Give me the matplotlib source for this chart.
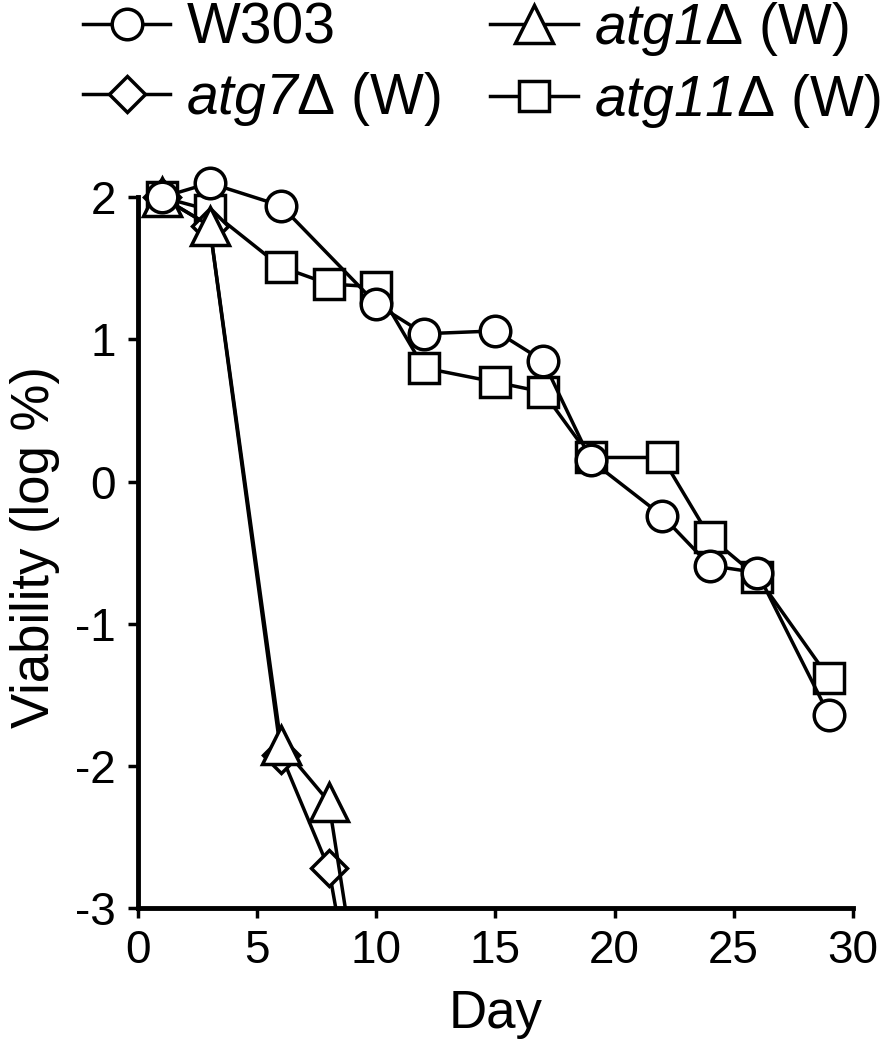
import matplotlib
matplotlib.use("Agg")
import matplotlib.pyplot as plt

plt.rcParams['font.family'] = ['Liberation Sans', 'DejaVu Sans']
plt.rcParams['mathtext.fontset'] = 'custom'
plt.rcParams['mathtext.rm'] = 'Liberation Sans:italic'
plt.rcParams['mathtext.it'] = 'Liberation Sans:italic'
plt.rcParams['axes.unicode_minus'] = False

# Data
w303_days = [1, 3, 6, 10, 12, 15, 17, 19, 22, 24, 26, 29]
w303_vals = [2.0, 2.1, 1.94, 1.25, 1.04, 1.06, 0.85, 0.15, -0.24, -0.59, -0.64, -1.64]

atg11_days = [1, 3, 6, 8, 10, 12, 15, 17, 19, 22, 24, 26, 29]
atg11_vals = [2.0, 1.91, 1.51, 1.39, 1.37, 0.80, 0.70, 0.63, 0.17, 0.17, -0.39, -0.67, -1.38]

atg1_days = [1, 3, 6, 8, 10]
atg1_vals = [2.0, 1.8, -1.85, -2.25, -4.4]

atg7_days = [1, 3, 6, 8, 10]
atg7_vals = [2.0, 1.8, -1.92, -2.72, -4.6]

x_ticks = [0, 5, 10, 15, 20, 25, 30]
y_ticks = [-3, -2, -1, 0, 1, 2]

labels = ['W303', r'$\mathrm{atg7}$' + 'Δ (W)', r'$\mathrm{atg1}$' + 'Δ (W)', r'$\mathrm{atg11}$' + 'Δ (W)']

fig = plt.figure(figsize=(8.8, 10.5), dpi=100)
ax = fig.add_axes([0.157, 0.135, 0.812, 0.711])

common = dict(color='black', lw=2.5, mec='black', mfc='white', mew=2.5)
l11, = ax.plot(atg11_days, atg11_vals, marker='s', ms=22, **common)
l7, = ax.plot(atg7_days, atg7_vals, marker='D', ms=18, **common)
l1, = ax.plot(atg1_days, atg1_vals, marker='^', ms=27, **common)
lw, = ax.plot(w303_days, w303_vals, marker='o', ms=22, **common)

ax.set_xlim(0, 30)
ax.set_ylim(-3, 2.25)
ax.spines['top'].set_visible(False)
ax.spines['right'].set_visible(False)
ax.spines['left'].set_bounds(-3, 2)
ax.spines['left'].set_linewidth(3.5)
ax.spines['bottom'].set_linewidth(3.5)
ax.set_xticks(x_ticks)
ax.set_yticks(y_ticks)
ax.tick_params(axis='both', direction='out', length=7, width=2.5, labelsize=33)
ax.tick_params(axis='x', pad=8)
ax.tick_params(axis='y', pad=9)
ax.set_xlabel('Day', fontsize=38)
ax.set_ylabel('Viability (log %)', fontsize=38)
ax.xaxis.set_label_coords(0.5, -0.108)
ax.yaxis.set_label_coords(-0.11, 0.484)

fig.legend([lw, l7, l1, l11], labels,
           ncol=2, loc='upper left', bbox_to_anchor=(0.094, 1.0), frameon=False,
           fontsize=41, handlelength=1.54, handletextpad=0.28, columnspacing=0.86,
           labelspacing=0.25, borderpad=0.0, borderaxespad=0.0)

fig.savefig('out.png', dpi=100)
